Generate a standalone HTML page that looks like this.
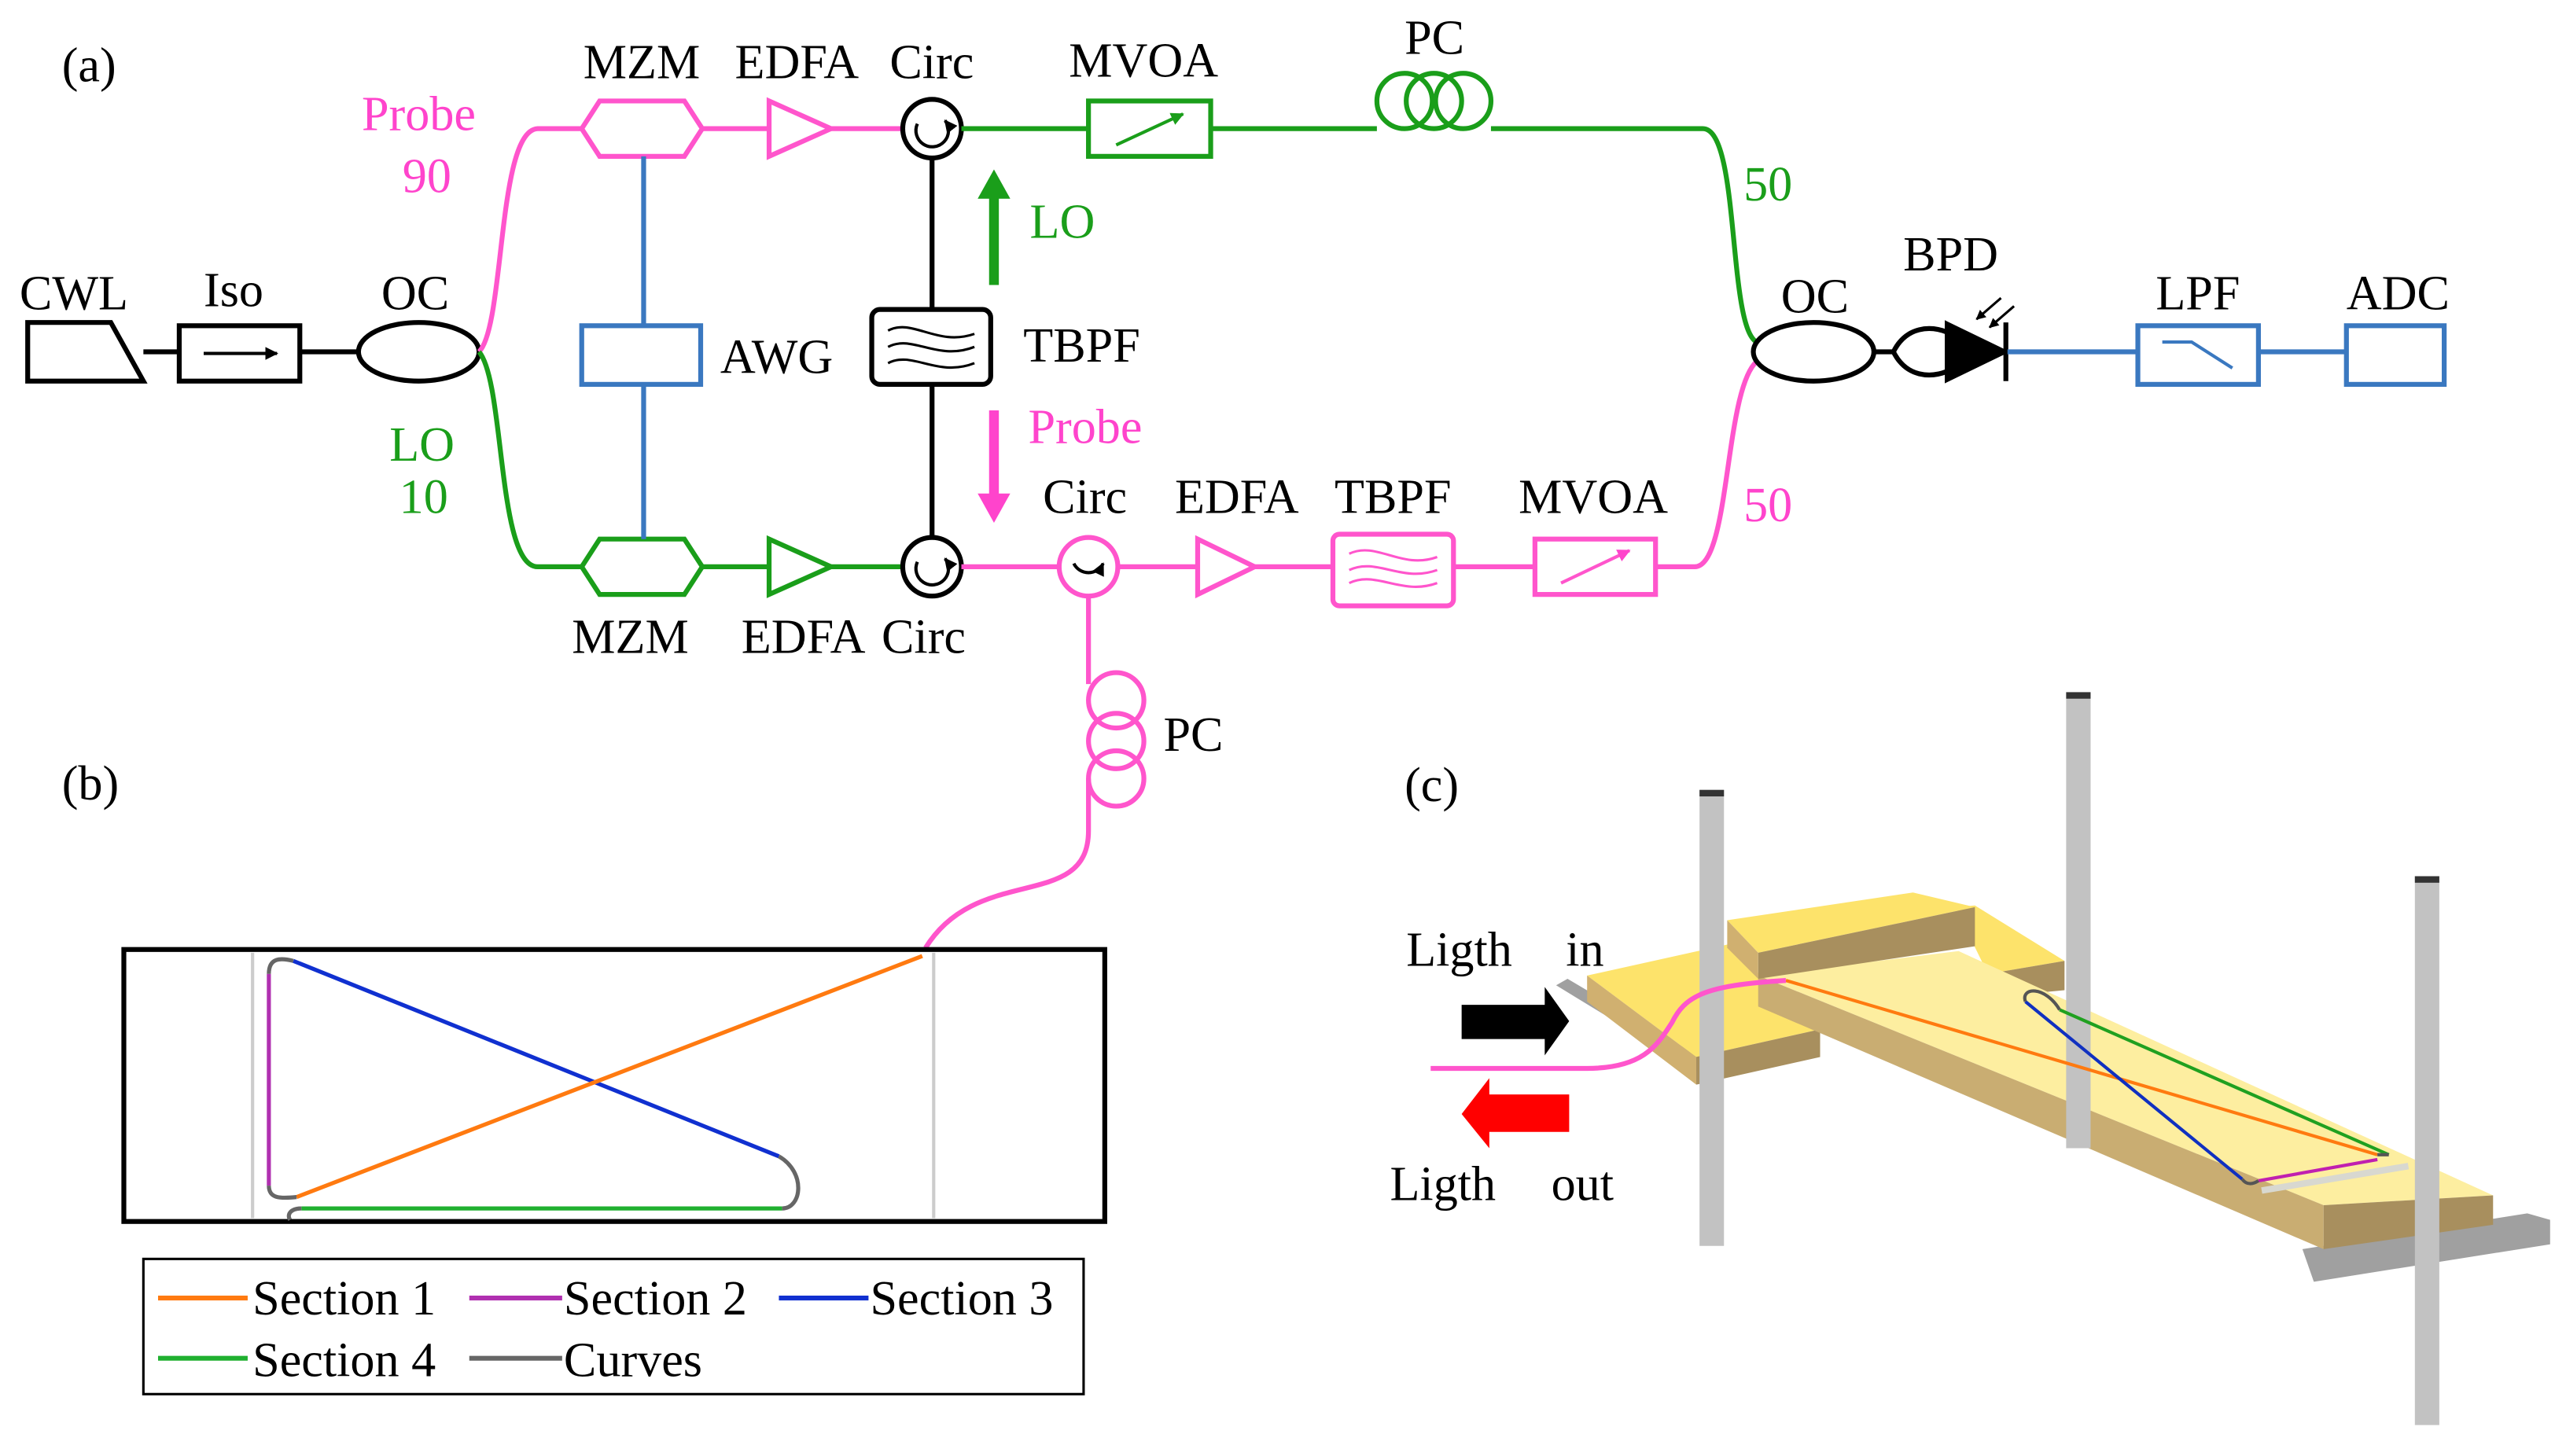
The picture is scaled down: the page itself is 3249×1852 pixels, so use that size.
<!DOCTYPE html>
<html><head><meta charset="utf-8"><style>
html,body{margin:0;padding:0;background:#fff}
svg{display:block}
text{font-family:"Liberation Serif",serif;font-size:30px}
</style></head><body>
<svg width="3249" height="1852" viewBox="0 0 1568 894" preserveAspectRatio="none" xmlns="http://www.w3.org/2000/svg">
<defs>
<marker id="ab" viewBox="0 0 10 10" refX="9" refY="5" markerWidth="4" markerHeight="4" orient="auto"><path d="M0,0L10,5L0,10z" fill="#000"/></marker>
<marker id="ag" viewBox="0 0 10 10" refX="9" refY="5" markerWidth="4" markerHeight="4" orient="auto"><path d="M0,0L10,5L0,10z" fill="#1a9e1a"/></marker>
<marker id="ap" viewBox="0 0 10 10" refX="9" refY="5" markerWidth="4" markerHeight="4" orient="auto"><path d="M0,0L10,5L0,10z" fill="#ff44cc"/></marker>
</defs>
<g fill="none" stroke-width="3">
<path d="M17,198 L68,198 L88,234 L17,234 Z" stroke="#000"/>
<line x1="88" y1="216" x2="110" y2="216" stroke="#000"/>
<rect x="110" y="200" width="74" height="34" stroke="#000"/>
<line x1="125" y1="217" x2="170" y2="217" stroke="#000" stroke-width="2" marker-end="url(#ab)"/>
<line x1="184" y1="216" x2="220" y2="216" stroke="#000"/>
<ellipse cx="257" cy="216" rx="37" ry="18" stroke="#000"/>
<path d="M294,216 C310,200 305,80 330,79 L357,79" stroke="#ff55cc"/>
<polygon points="357,79 368,62 420,62 431,79 420,96 368,96" stroke="#ff55cc"/>
<line x1="431" y1="79" x2="472" y2="79" stroke="#ff55cc"/>
<polygon points="472,62 510,79 472,96" stroke="#ff55cc"/>
<line x1="510" y1="79" x2="554" y2="79" stroke="#ff55cc"/>
<circle cx="572" cy="79" r="18" stroke="#000"/>
<path d="M563,76 A10,10 0 1 0 580,74" stroke="#000" stroke-width="2" marker-end="url(#ab)"/>
<line x1="590" y1="79" x2="668" y2="79" stroke="#1a9e1a"/>
<rect x="668" y="62" width="75" height="34" stroke="#1a9e1a"/>
<line x1="685" y1="89" x2="726" y2="70" stroke="#1a9e1a" stroke-width="2" marker-end="url(#ag)"/>
<line x1="743" y1="79" x2="845" y2="79" stroke="#1a9e1a"/>
<circle cx="862" cy="62" r="17" stroke="#1a9e1a"/>
<circle cx="880" cy="62" r="17" stroke="#1a9e1a"/>
<circle cx="898" cy="62" r="17" stroke="#1a9e1a"/>
<path d="M915,79 L1045,79 C1068,79 1060,200 1078,210" stroke="#1a9e1a"/>
<path d="M294,216 C310,235 305,348 330,348 L357,348" stroke="#1a9e1a"/>
<polygon points="357,348 368,331 420,331 431,348 420,365 368,365" stroke="#1a9e1a"/>
<line x1="431" y1="348" x2="472" y2="348" stroke="#1a9e1a"/>
<polygon points="472,331 510,348 472,365" stroke="#1a9e1a"/>
<line x1="510" y1="348" x2="554" y2="348" stroke="#1a9e1a"/>
<circle cx="572" cy="348" r="18" stroke="#000"/>
<path d="M563,345 A10,10 0 1 0 580,343" stroke="#000" stroke-width="2" marker-end="url(#ab)"/>
<line x1="590" y1="348" x2="650" y2="348" stroke="#ff55cc"/>
<circle cx="668" cy="348" r="18" stroke="#ff55cc"/>
<path d="M659,346 A10,10 0 0 0 677,346" stroke="#000" stroke-width="2" marker-end="url(#ab)"/>
<line x1="686" y1="348" x2="735" y2="348" stroke="#ff55cc"/>
<polygon points="735,331 770,348 735,365" stroke="#ff55cc"/>
<line x1="770" y1="348" x2="818" y2="348" stroke="#ff55cc"/>
<rect x="818" y="328" width="74" height="44" rx="4" stroke="#ff55cc"/>
<path d="M828,340 C845,332 860,350 882,342 M828,350 C845,342 860,358 882,350 M828,358 C845,350 860,366 882,358" stroke="#ff55cc" stroke-width="1.5"/>
<line x1="892" y1="348" x2="942" y2="348" stroke="#ff55cc"/>
<rect x="942" y="331" width="74" height="34" stroke="#ff55cc"/>
<line x1="958" y1="358" x2="1000" y2="338" stroke="#ff55cc" stroke-width="2" marker-end="url(#ap)"/>
<path d="M1016,348 L1040,348 C1062,348 1058,240 1078,222" stroke="#ff55cc"/>
<line x1="395" y1="96" x2="395" y2="200" stroke="#3a78c0"/>
<rect x="357" y="200" width="73" height="36" stroke="#3a78c0"/>
<line x1="395" y1="236" x2="395" y2="331" stroke="#3a78c0"/>
<line x1="572" y1="97" x2="572" y2="190" stroke="#000"/>
<rect x="535" y="190" width="73" height="46" rx="5" stroke="#000"/>
<path d="M545,203 C560,195 575,213 598,205 M545,213 C560,205 575,222 598,213 M545,223 C560,215 575,232 598,223" stroke="#000" stroke-width="1.5"/>
<line x1="572" y1="236" x2="572" y2="330" stroke="#000"/>
<line x1="610" y1="175" x2="610" y2="120" stroke="#1a9e1a" stroke-width="6"/>
<polygon points="600,122 610,104 620,122" fill="#1a9e1a" stroke="none"/>
<line x1="610" y1="252" x2="610" y2="305" stroke="#ff44cc" stroke-width="6"/>
<polygon points="600,303 610,321 620,303" fill="#ff44cc" stroke="none"/>
<ellipse cx="1113" cy="216" rx="37" ry="18" stroke="#000"/>
<path d="M1150,216 L1162,216 C1170,200 1185,200 1195,204 M1162,216 C1170,232 1185,232 1195,228" stroke="#000"/>
<polygon points="1195,199 1230,216 1195,233" fill="#000" stroke="#000"/>
<line x1="1231" y1="198" x2="1231" y2="234" stroke="#000"/>
<line x1="1228" y1="183" x2="1213" y2="196" stroke="#000" stroke-width="1.5" marker-end="url(#ab)"/>
<line x1="1236" y1="188" x2="1221" y2="201" stroke="#000" stroke-width="1.5" marker-end="url(#ab)"/>
<line x1="1232" y1="216" x2="1312" y2="216" stroke="#3a78c0"/>
<rect x="1312" y="200" width="74" height="36" stroke="#3a78c0"/>
<path d="M1327,210 L1345,210 L1370,226" stroke="#3a78c0" stroke-width="2"/>
<line x1="1386" y1="216" x2="1440" y2="216" stroke="#3a78c0"/>
<rect x="1440" y="200" width="60" height="36" stroke="#3a78c0"/>
<line x1="668" y1="366" x2="668" y2="420" stroke="#ff55cc"/>
<circle cx="685" cy="430" r="17" stroke="#ff55cc"/>
<circle cx="685" cy="455" r="17" stroke="#ff55cc"/>
<circle cx="685" cy="478" r="17" stroke="#ff55cc"/>
<path d="M668,478 L668,510 C668,560 600,530 568,582" stroke="#ff55cc"/>
<rect x="76" y="583" width="602" height="167" stroke="#000"/>
<line x1="155" y1="585" x2="155" y2="748" stroke="#ccc" stroke-width="2"/>
<line x1="573" y1="585" x2="573" y2="748" stroke="#ccc" stroke-width="2"/>
<line x1="180" y1="590" x2="478" y2="710" stroke="#1030d0" stroke-width="2.5"/>
<line x1="182" y1="735" x2="566" y2="587" stroke="#ff7a10" stroke-width="2.5"/>
<line x1="165" y1="598" x2="165" y2="728" stroke="#b030b0" stroke-width="2.5"/>
<line x1="185" y1="742" x2="480" y2="742" stroke="#20b030" stroke-width="2.5"/>
<path d="M165,598 C165,588 172,588 180,590 M165,728 C165,736 172,736 182,735 M478,710 C495,720 492,742 480,742 M185,742 C178,742 176,746 178,749" stroke="#666" stroke-width="2.5"/>
<rect x="88" y="773" width="577" height="83" stroke="#000" stroke-width="1.5"/>
<line x1="97" y1="797" x2="152" y2="797" stroke="#ff7a10"/>
<line x1="288" y1="797" x2="345" y2="797" stroke="#b030b0"/>
<line x1="478" y1="797" x2="533" y2="797" stroke="#1030d0"/>
<line x1="97" y1="834" x2="152" y2="834" stroke="#20b030"/>
<line x1="288" y1="834" x2="345" y2="834" stroke="#666"/>
</g>
<!-- (c) 3D -->
<g>
<polygon points="955,605 962,601 1045,650 1045,660" fill="#a0a0a0"/>
<polygon points="1413,767 1551,745 1565,749 1565,764 1420,787" fill="#a0a0a0"/>
<!-- lower left block -->
<polygon points="974,599 1060,580 1117,632 1041,649" fill="#fde36b"/>
<polygon points="974,599 1041,649 1041,666 974,615" fill="#d0b070"/>
<polygon points="1041,649 1117,632 1117,649 1041,666" fill="#a88f5e"/>
<!-- right back block -->
<polygon points="1200,557 1212,556 1267,590 1220,598" fill="#fde36b"/>
<polygon points="1220,598 1267,590 1267,608 1225,612" fill="#a88f5e"/>
<!-- long plank -->
<polygon points="1079,599 1202,584 1530,734 1426,740" fill="#fdeea0"/>
<polygon points="1079,599 1426,740 1426,767 1079,618" fill="#c9ad72"/>
<polygon points="1426,740 1530,734 1530,752 1426,767" fill="#a88f5e"/>
<line x1="1388" y1="731" x2="1478" y2="716" stroke="#d8d8d0" stroke-width="4"/>
<!-- raised block -->
<polygon points="1060,565 1174,548 1212,557 1079,585" fill="#fde36b"/>
<polygon points="1079,585 1212,557 1212,581 1079,601" fill="#a88f5e"/>
<polygon points="1060,565 1079,585 1079,601 1060,582" fill="#d0b070"/>
<!-- posts -->
<rect x="1043" y="485" width="15" height="280" fill="#c2c2c2"/>
<rect x="1268" y="425" width="15" height="280" fill="#c2c2c2"/>
<rect x="1482" y="538" width="15" height="337" fill="#c2c2c2"/>
<rect x="1043" y="485" width="15" height="4" fill="#333"/>
<rect x="1268" y="425" width="15" height="4" fill="#333"/>
<rect x="1482" y="538" width="15" height="4" fill="#333"/>
<path d="M1096,602 L1459,709" stroke="#ff7a10" stroke-width="2" fill="none"/>
<path d="M1264,620 L1466,709" stroke="#20a020" stroke-width="2" fill="none"/>
<path d="M1243,615 L1376,724" stroke="#1030c0" stroke-width="2" fill="none"/>
<path d="M1386,725 L1459,712" stroke="#c020b0" stroke-width="2" fill="none"/>
<path d="M1243,615 C1240,606 1255,605 1264,620 M1376,724 C1379,728 1383,727 1386,725 M1459,709 L1466,709" stroke="#555" stroke-width="2" fill="none"/>
<path d="M878,656 L974,656 C1010,656 1018,640 1026,628 C1034,612 1045,605 1096,602" stroke="#ff55cc" stroke-width="3" fill="none"/>
<polygon points="897,617 948,617 948,606 963,627 948,648 948,638 897,638" fill="#000"/>
<polygon points="963,672 914,672 914,662 897,684 914,705 914,695 963,695" fill="#f00"/>
</g>
<g fill="#000">
<text x="38" y="50">(a)</text>
<text x="358" y="48">MZM</text><text x="451" y="48">EDFA</text><text x="546" y="48">Circ</text>
<text x="656" y="47">MVOA</text><text x="862" y="33">PC</text>
<text x="12" y="190">CWL</text><text x="125" y="188">Iso</text><text x="234" y="190">OC</text>
<text x="442" y="229">AWG</text><text x="628" y="222">TBPF</text>
<text x="1093" y="192">OC</text><text x="1168" y="166">BPD</text>
<text x="1323" y="190">LPF</text><text x="1440" y="190">ADC</text>
<text x="640" y="315">Circ</text><text x="721" y="315">EDFA</text><text x="819" y="315">TBPF</text><text x="932" y="315">MVOA</text>
<text x="351" y="401">MZM</text><text x="455" y="401">EDFA</text><text x="541" y="401">Circ</text>
<text x="714" y="461">PC</text>
<text x="38" y="491">(b)</text><text x="862" y="492">(c)</text>
<text x="863" y="593">Ligth</text><text x="961" y="593">in</text>
<text x="853" y="737">Ligth</text><text x="952" y="737">out</text>
<text x="155" y="807">Section 1</text><text x="346" y="807">Section 2</text><text x="534" y="807">Section 3</text>
<text x="155" y="845">Section 4</text><text x="346" y="845">Curves</text>
</g>
<g fill="#ff44cc"><text x="222" y="80">Probe</text><text x="247" y="118">90</text><text x="631" y="272">Probe</text><text x="1070" y="320">50</text></g>
<g fill="#1a9e1a"><text x="632" y="146">LO</text><text x="1070" y="123">50</text><text x="239" y="283">LO</text><text x="245" y="315">10</text></g>
</svg>
</body></html>
